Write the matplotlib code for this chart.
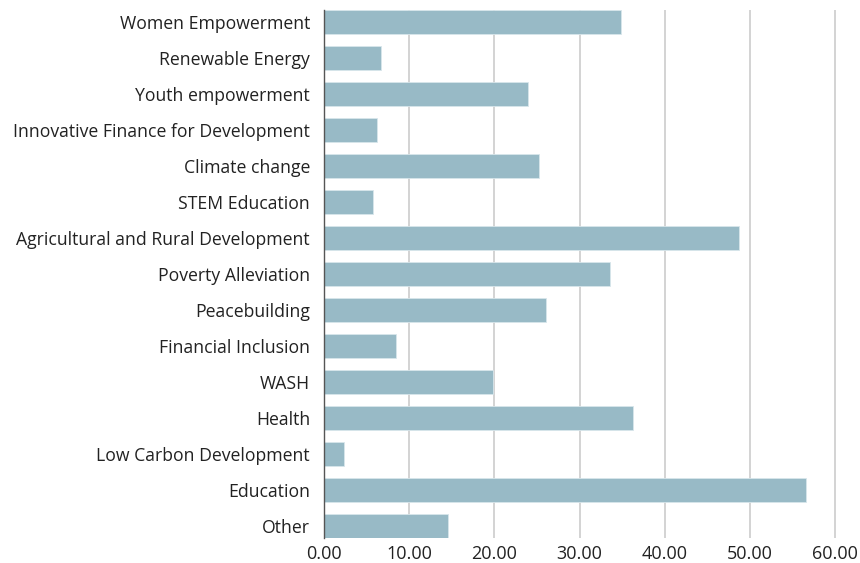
import matplotlib
matplotlib.use('Agg')
import matplotlib.pyplot as plt
import numpy as np

# Categories, top to bottom as shown
categories = ['Women Empowerment', 'Renewable Energy', 'Youth empowerment',
              'Innovative Finance for Development', 'Climate change', 'STEM Education',
              'Agricultural and Rural Development', 'Poverty Alleviation', 'Peacebuilding',
              'Financial Inclusion', 'WASH', 'Health', 'Low Carbon Development',
              'Education', 'Other']
values = [34.9, 6.7, 23.9, 6.2, 25.2, 5.8, 48.7, 33.6, 26.1, 8.5, 19.9, 36.3, 2.3, 56.6, 14.6]
xticks = [0, 10, 20, 30, 40, 50, 60]

plt.rcParams['font.family'] = ['Open Sans', 'DejaVu Sans']

fig = plt.figure(figsize=(8.6, 5.63), dpi=100)
ax = fig.add_axes([0.3767, 0.0444, 0.5953, 0.9378])

y = np.arange(len(categories))
bar_h = 0.66
ax.barh(y, values, height=bar_h, color='#98bac6', edgecolor='#d8e6eb', linewidth=0.6, zorder=3)

ax.set_yticks(y)
ax.set_yticklabels(categories, fontsize=12.7, color='#222222')
ax.set_xticks(xticks)
ax.set_xticklabels([f'{t:.2f}' for t in xticks], fontsize=13, color='#222222')
ax.set_xlim(0, 60.1)
ax.set_ylim(len(categories) - 1 + bar_h / 2, -bar_h / 2)

ax.tick_params(axis='both', length=0)
ax.tick_params(axis='y', pad=10)
ax.tick_params(axis='x', pad=5)
ax.xaxis.grid(True, color='#cccccc', linewidth=1.2, zorder=0)
ax.set_axisbelow(True)
for s in ['top', 'right', 'bottom']:
    ax.spines[s].set_visible(False)
ax.spines['left'].set_color('#555555')
ax.spines['left'].set_linewidth(1.0)
ax.spines['left'].set_zorder(4)

fig.savefig('out.png', dpi=100)
